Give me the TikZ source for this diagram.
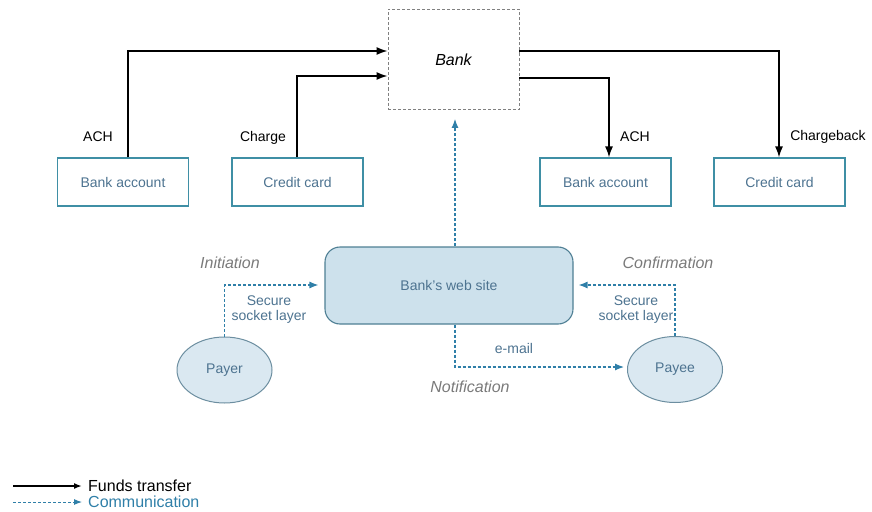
\documentclass[tikz,border=0pt]{standalone}
\usepackage{fontspec}
\setmainfont{Liberation Sans}
\usetikzlibrary{arrows.meta,shapes.geometric}
\definecolor{boxline}{HTML}{3F8FA5}
\definecolor{boxtext}{HTML}{4D7390}
\definecolor{webfill}{HTML}{CDE1EC}
\definecolor{webline}{HTML}{4F7F94}
\definecolor{ellfill}{HTML}{DAE8F1}
\definecolor{ellline}{HTML}{6C8EA0}
\definecolor{commcol}{HTML}{2F7FA8}
\definecolor{labgray}{HTML}{7A7A7A}
\begin{document}
\begin{tikzpicture}[x=1pt,y=-1pt,
  acct/.style={draw=boxline,line width=1.1pt,minimum width=131pt,minimum height=48pt,inner sep=0pt,text=boxtext,font=\fontsize{14}{16}\selectfont},
  bankbox/.style={draw=gray,dash pattern=on 3pt off 2pt,line width=0.9pt,minimum width=131pt,minimum height=100pt,inner sep=0pt,font=\fontsize{16}{18}\selectfont\itshape},
  webbox/.style={draw=webline,fill=webfill,line width=1.1pt,rounded corners=15pt,minimum width=248pt,minimum height=77pt,inner sep=0pt,text=boxtext,font=\fontsize{14}{16}\selectfont},
  party/.style={ellipse,draw=ellline,fill=ellfill,line width=1pt,minimum width=95pt,minimum height=66pt,inner sep=0pt,text=boxtext,font=\fontsize{14}{16}\selectfont},
  fund/.style={draw=black,line width=1.6pt,-{Latex[length=11pt,width=8pt]}},
  comm/.style={draw=commcol,dash pattern=on 3pt off 2pt,line width=1.2pt,-{Latex[length=9pt,width=7pt]}},
  flab/.style={font=\fontsize{14}{16}\selectfont,inner sep=0pt},
  glab/.style={font=\fontsize{16}{18}\selectfont\itshape,text=labgray,inner sep=0pt},
  blab/.style={font=\fontsize{14}{15}\selectfont,text=boxtext,align=center,inner sep=0pt}
]
\path[use as bounding box] (0,0) rectangle (872,511);

% nodes
\node[bankbox] (bank) at (453.5,59.5) {Bank};
\node[acct] (ba1) at (123,182) {Bank account};
\node[acct] (cc1) at (297.5,182) {Credit card};
\node[acct] (ba2) at (605.5,182) {Bank account};
\node[acct] (cc2) at (779.5,182) {Credit card};
\node[webbox] (web) at (449,285.5) {Bank's web site};
\node[party] (payer) at (224.5,370) {Payer};
\node[party] (payee) at (675,369.5) {Payee};

% funds transfers
\draw[fund] (128,0 |- ba1.north) -- (128,51) -- (bank.west |- 0,51);
\draw[fund] (297,0 |- cc1.north) -- (297,76) -- (bank.west |- 0,76);
\draw[fund] (bank.east |- 0,78) -- (609,78) -- (609,0 |- ba2.north);
\draw[fund] (bank.east |- 0,51) -- (779,51) -- (779,0 |- cc2.north);

\node[flab] (lach1) at (98,137) {ACH};
\node[flab] (lchg) at (263,138) {Charge};
\node[flab] (lach2) at (635,137) {ACH};
\node[flab] (lchb) at (828,137) {Chargeback};

% communications
\draw[comm,shorten >=9pt] (455,0 |- web.north) -- (455,0 |- bank.south);
\draw[comm,shorten >=6pt] (payer.north) -- (payer.north |- 0,285) -- (web.west |- 0,285);
\draw[comm,shorten >=5pt] (payee.north) -- (payee.north |- 0,285) -- (web.east |- 0,285);
\draw[comm,shorten >=3pt] (455,0 |- web.south) -- (455,367) -- (payee.west |- 0,367);

\node[glab] (linit) at (230,263) {Initiation};
\node[glab] (lconf) at (668,263) {Confirmation};
\node[glab] (lnot) at (470,387) {Notification};
\node[blab] (lssl1) at (269,310) {Secure\\socket layer};
\node[blab] (lssl2) at (636,310) {Secure\\socket layer};
\node[blab] (lmail) at (514,348) {e-mail};

% legend
\coordinate (lf1) at (13,486);
\coordinate (lf2) at (82,486);
\coordinate (lc1) at (13,502);
\coordinate (lc2) at (82,502);
\draw[fund,line width=1.8pt,-{Latex[length=8pt,width=6pt]}] (lf1) -- (lf2);
\draw[comm,line width=1pt,-{Latex[length=8pt,width=6pt]}] (lc1) -- (lc2);
\node[anchor=west,inner sep=0pt,font=\fontsize{16}{18}\selectfont] (lgf) at (88,486) {Funds transfer};
\node[anchor=west,inner sep=0pt,font=\fontsize{16}{18}\selectfont,text=commcol] (lgc) at (88,502) {Communication};
\end{tikzpicture}
\end{document}
